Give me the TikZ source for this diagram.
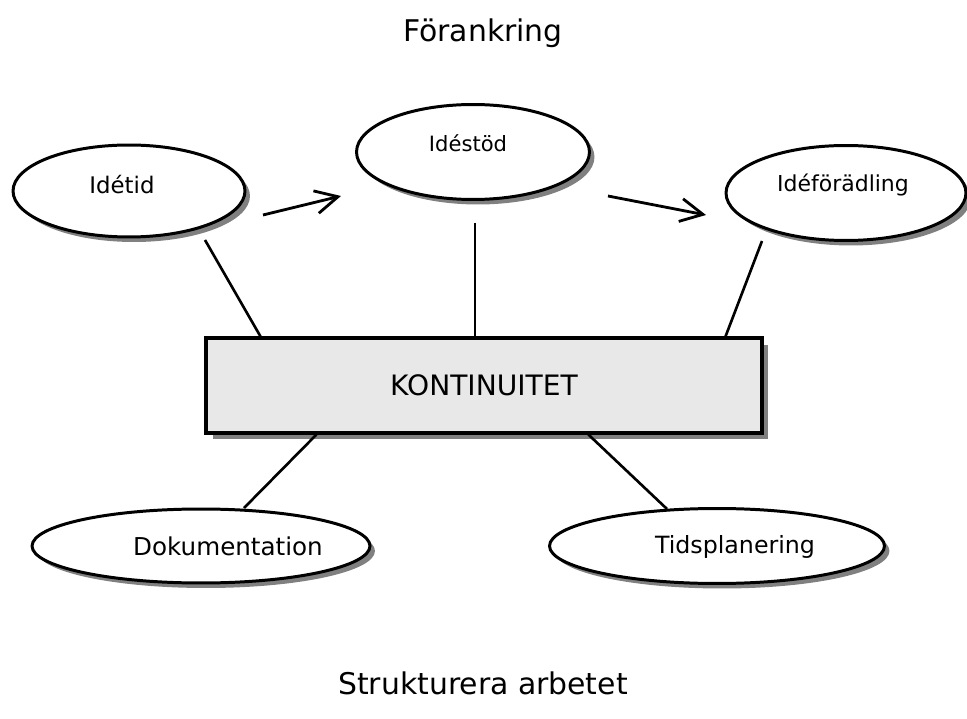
\documentclass[tikz,border=0pt]{standalone}
\usepackage{fontspec}
\setmainfont{DejaVu Sans}
\usetikzlibrary{arrows.meta,shapes.geometric,shadows}
\definecolor{boxfill}{HTML}{E8E8E8}
\definecolor{shade}{HTML}{808080}
\newcommand{\fsz}[1]{\fontsize{#1}{#1}\selectfont}

\begin{document}
\begin{tikzpicture}[x=0.02cm,y=-0.02cm,
  bubble/.style={ellipse,draw,line width=1.7pt,fill=white,inner sep=0pt,
    drop shadow={shadow xshift=0.1cm,shadow yshift=-0.1cm,fill=shade,opacity=1}},
  mainbox/.style={rectangle,draw,line width=1.8pt,fill=boxfill,
    minimum width=11.12cm,minimum height=1.9cm,font=\fsz{16},
    drop shadow={shadow xshift=0.13cm,shadow yshift=-0.13cm,fill=shade,opacity=1}},
  lbl/.style={font=\fsz{13}},
  heading/.style={font=\fsz{17}},
  link/.style={line width=1.5pt},
  flow/.style={-{Straight Barb[length=4.5mm,width=4.6mm]},line width=1.6pt}]
\useasboundingbox (0,0) rectangle (967,719);

\node[heading] (forankring) at (483,33) {Förankring};
\node[heading] (strukt) at (483,683) {Strukturera arbetet};

\node[bubble,minimum width=4.64cm,minimum height=1.84cm,
  label={[lbl,xshift=-0.14cm,yshift=0.12cm]center:Idétid}] (idetid) at (129,191) {};
\node[bubble,minimum width=4.66cm,minimum height=1.9cm,
  label={[lbl,font=\fsz{12},xshift=-0.1cm,yshift=0.18cm]center:Idéstöd}] (idestod) at (473,152) {};
\node[bubble,minimum width=4.8cm,minimum height=1.9cm,
  label={[lbl,font=\fsz{12.5},xshift=-0.06cm,yshift=0.16cm]center:Idéförädling}] (idefor) at (846,193) {};
\node[bubble,minimum width=6.76cm,minimum height=1.48cm,
  label={[lbl,font=\fsz{14},xshift=0.54cm]center:Dokumentation}] (dok) at (201,546) {};
\node[bubble,minimum width=6.7cm,minimum height=1.5cm,
  label={[lbl,font=\fsz{13.5},xshift=0.36cm,yshift=-0.02cm]center:Tidsplanering}] (tids) at (717,546) {};

\node[mainbox] (kont) at (484,385.5) {KONTINUITET};

% loose ends of the connectors, just off the ellipses
\coordinate (idetid-out) at (205,240);
\coordinate (idestod-out) at (475,223);
\coordinate (idefor-out) at (762,241);
\coordinate (dok-in) at (244,508);
\coordinate (tids-in) at (667,509);
\coordinate (flow1-from) at (263,215);
\coordinate (flow1-to) at (341,196);
\coordinate (flow2-from) at (608,196);
\coordinate (flow2-to) at (706,215);

\draw[link] (idetid-out) -- ([xshift=1.12cm]kont.north west);
\draw[link] (idestod-out) -- (idestod-out |- kont.north);
\draw[link] (idefor-out) -- ([xshift=-0.76cm]kont.north east);
\draw[link] ([xshift=2.24cm]kont.south west) -- (dok-in);
\draw[link] ([xshift=7.68cm]kont.south west) -- (tids-in);

\draw[flow] (flow1-from) -- (flow1-to);
\draw[flow] (flow2-from) -- (flow2-to);
\end{tikzpicture}
\end{document}
